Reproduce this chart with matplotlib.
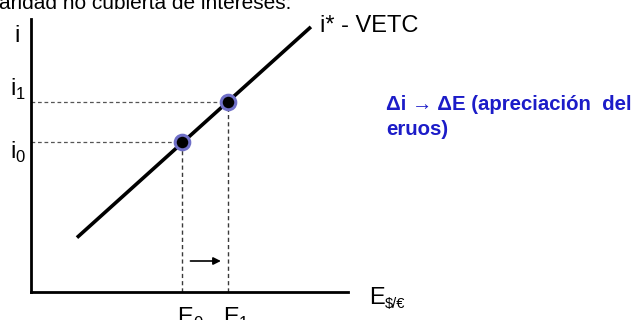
import matplotlib
matplotlib.use("Agg")
import matplotlib.pyplot as plt

plt.rcParams['font.family'] = ['Liberation Sans', 'DejaVu Sans']

# Interest-parity schedule (i* - VETC) in abstract units
curve_E = [1.45, 8.83]
curve_i = [2.0, 9.75]

# Equilibria before and after the rise in i
E_vals = [4.76, 6.21]
i_vals = [5.5, 7.0]
E_labels = ['0', '1']
i_labels = ['0', '1']

W, H = 635, 320
fig = plt.figure(figsize=(W / 100, H / 100), dpi=100)

def fx(px):
    return px / W

def fy(py):
    return 1 - py / H

ax = fig.add_axes([fx(31), fy(292), (348 - 31) / W, (292 - 19) / H])
ax.set_xlim(0, 10)
ax.set_ylim(0, 10.04)
for s in ('top', 'right'):
    ax.spines[s].set_visible(False)
for s in ('left', 'bottom'):
    ax.spines[s].set_linewidth(2.0)
    ax.spines[s].set_color('black')
ax.set_xticks([])
ax.set_yticks([])
ax.patch.set_alpha(0)

# Upward-sloping schedule
ax.plot(curve_E, curve_i, color='black', lw=2.6, solid_capstyle='butt', zorder=3)

# Guide lines to the axes
for E, i in zip(E_vals, i_vals):
    ax.plot([0, E], [i, i], color='#555555', lw=0.9, ls=(0, (3, 2.2)), zorder=2)
    ax.plot([E, E], [0, i], color='#3a3a3a', lw=1.0, ls=(0, (3, 2.2)), zorder=2)

# Equilibrium points
ax.plot(E_vals, i_vals, 'o', ms=10.5, mfc='black', mec='#7070c8', mew=2.2, zorder=4)

# Shift of the exchange rate
ax.annotate('', xy=(E_vals[1] - 0.22, 1.14), xytext=(E_vals[0] + 0.27, 1.14),
            arrowprops=dict(arrowstyle='-|>', color='black', lw=1.2,
                            mutation_scale=11, shrinkA=0, shrinkB=0))

# Axis labels
fig.text(fx(14), fy(42), 'i', fontsize=17, va='baseline')
fig.text(fx(369), fy(304), 'E', fontsize=17, va='baseline')
fig.text(fx(385), fy(308), '$/€', fontsize=10.5, va='baseline')

# Tick-style labels for the equilibria
for i, lab, py in zip(i_vals, i_labels, [158, 95]):
    fig.text(fx(10), fy(py), 'i', fontsize=17, va='baseline')
    fig.text(fx(15.5), fy(py + 4), lab, fontsize=12, va='baseline')
for E, lab, px in zip(E_vals, E_labels, [177, 223]):
    fig.text(fx(px), fy(324), 'E', fontsize=17, va='baseline')
    fig.text(fx(px + 16), fy(328), lab, fontsize=12, va='baseline')

# Curve label
fig.text(fx(320), fy(32), 'i* - VETC', fontsize=17, va='baseline')

# Annotation
fig.text(fx(386), fy(110), 'Δi → ΔE (apreciación  del', fontsize=14.7,
         fontweight='bold', color='#1c1cc8', va='baseline')
fig.text(fx(386), fy(135), 'eruos)', fontsize=14.7,
         fontweight='bold', color='#1c1cc8', va='baseline')

# Heading partly outside the canvas
fig.text(fx(-15), fy(9), 'Paridad no cubierta de intereses:', fontsize=15, va='baseline')

fig.savefig('out.png', dpi=100)
